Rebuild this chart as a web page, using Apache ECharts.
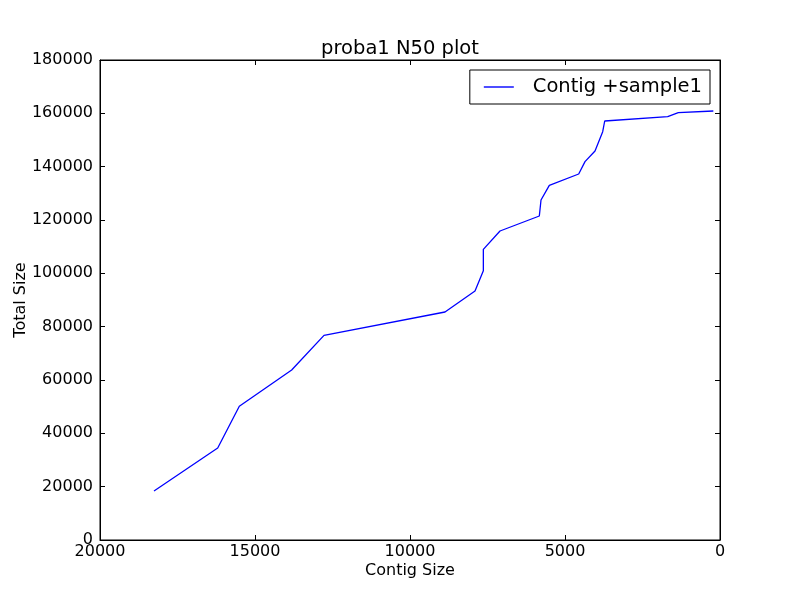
<!DOCTYPE html>
<html><head><meta charset="utf-8">
<script src="https://cdn.jsdelivr.net/npm/echarts@6/dist/echarts.min.js"></script>
<style>html,body{margin:0;padding:0;background:#fff}#c{width:800px;height:600px}</style>
</head><body><div id="c"></div>
<script>
const contigSize = [18258,16203,15506,13817,12774,8871,7903,7634,7634,7097,5828,5774,5506,4558,4355,4032,3784,3719,1687,1345,215];
const totalSize = [18375,34500,50137,63750,76750,85500,93375,101000,109000,115875,121500,127500,133000,137250,141875,145875,153125,157125,158750,160250,160875];
const xTicks = [0,5000,10000,15000,20000];
const yTicks = [0,20000,40000,60000,80000,100000,120000,140000,160000,180000];
const seriesName = 'Contig +sample1';
const font = 'DejaVu Sans';
const chart = echarts.init(document.getElementById('c'), null, {renderer:'canvas'});
const axisCommon = {
  axisLine:{show:true,onZero:false,lineStyle:{color:'#000',width:1}},
  axisTick:{show:true,inside:true,length:5,lineStyle:{color:'#000'}},
  splitLine:{show:false}
};
const fmt = v => String(v);
chart.setOption({
  animation:false,
  title:{text:'proba1 N50 plot',left:'center',top:34,textStyle:{fontFamily:font,fontSize:19.5,fontWeight:'normal',color:'#000'}},
  legend:{right:90,top:70,orient:'vertical',data:[{name:seriesName,icon:'rect'}],itemWidth:30,itemHeight:1.4,
    padding:[7,8,7,14],borderColor:'#000',borderWidth:1,backgroundColor:'#fff',
    textStyle:{fontFamily:font,fontSize:19.5,color:'#000',padding:[0,0,0,14]}},
  grid:{left:100,right:80,top:60,bottom:60,show:true,borderColor:'#000',borderWidth:1,containLabel:false,outerBoundsMode:'none'},
  xAxis:[
    Object.assign({type:'value',min:xTicks[0],max:xTicks[xTicks.length-1],interval:xTicks[1]-xTicks[0],inverse:true,position:'bottom',
      name:'Contig Size',nameLocation:'middle',nameGap:23,nameMoveOverlap:false,nameTextStyle:{fontFamily:font,fontSize:16,color:'#000'},
      axisLabel:{fontFamily:font,fontSize:16,color:'#000',margin:4,formatter:fmt}},axisCommon),
    Object.assign({type:'value',min:xTicks[0],max:xTicks[xTicks.length-1],interval:xTicks[1]-xTicks[0],inverse:true,position:'top',axisLabel:{show:false}},axisCommon)
  ],
  yAxis:[
    Object.assign({type:'value',min:yTicks[0],max:yTicks[yTicks.length-1],interval:yTicks[1]-yTicks[0],position:'left',
      name:'Total Size',nameLocation:'middle',nameGap:71,nameMoveOverlap:false,nameTextStyle:{fontFamily:font,fontSize:16,color:'#000'},
      axisLabel:{fontFamily:font,fontSize:16,color:'#000',margin:7,formatter:fmt}},axisCommon),
    Object.assign({type:'value',min:yTicks[0],max:yTicks[yTicks.length-1],interval:yTicks[1]-yTicks[0],position:'right',axisLabel:{show:false}},axisCommon)
  ],
  series:[{name:seriesName,type:'line',xAxisIndex:0,yAxisIndex:0,showSymbol:false,symbol:'none',
    lineStyle:{color:'#0000ff',width:1.3},itemStyle:{color:'#0000ff'},
    data:contigSize.map((x,i)=>[x,totalSize[i]])}]
});
</script></body></html>
